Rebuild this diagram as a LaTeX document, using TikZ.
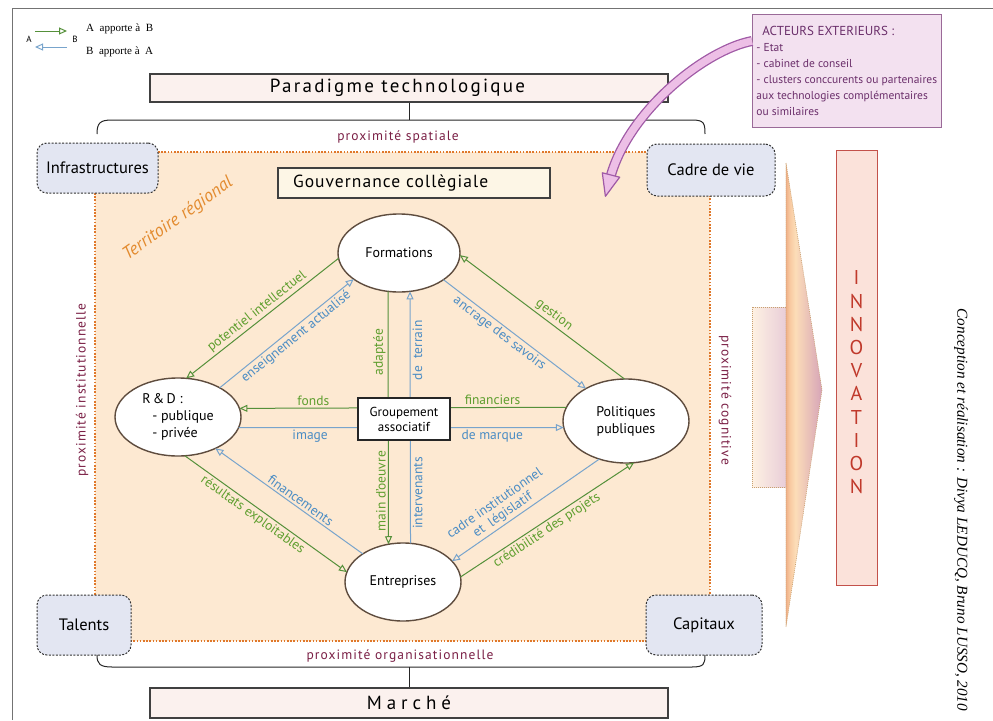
\documentclass[tikz,border=0pt]{standalone}
\usepackage{fontspec}
\setmainfont{PT Sans}
\newfontfamily\serifx{Liberation Serif}
\newfontfamily\spaced[LetterSpace=12]{PT Sans}
\newfontfamily\spacedm[LetterSpace=26]{PT Sans}
\newfontfamily\spacedb[LetterSpace=6]{PT Sans}
\newfontfamily\spacedp[LetterSpace=8]{PT Sans}
\usetikzlibrary{arrows.meta,shapes.geometric,calc}
\definecolor{grn}{HTML}{55903A}
\definecolor{grntxt}{HTML}{5E9E2E}
\definecolor{blu}{HTML}{78A4CC}
\definecolor{blutxt}{HTML}{4A8CC4}
\definecolor{peach}{HTML}{FDE9D2}
\definecolor{orangeb}{HTML}{E0782A}
\definecolor{orangetxt}{HTML}{E38B2F}
\definecolor{maroon}{HTML}{7A1F45}
\definecolor{lav}{HTML}{E3E6F2}
\definecolor{ellb}{HTML}{5E4C3E}
\definecolor{paradfill}{HTML}{FBF1EE}
\definecolor{gouvfill}{HTML}{FDF6E6}
\definecolor{innofill}{HTML}{FBE2DA}
\definecolor{innob}{HTML}{C3514A}
\definecolor{innotxt}{HTML}{C0392B}
\definecolor{actfill}{HTML}{F3E1F0}
\definecolor{actb}{HTML}{9A6A98}
\definecolor{acttxt}{HTML}{6B2F6B}
\definecolor{bandb}{HTML}{A05AA6}
\definecolor{bandf}{HTML}{EDBFE6}
\definecolor{tA}{HTML}{F0B088}
\definecolor{tB}{HTML}{F8C9A0}
\definecolor{tC}{HTML}{FCDDB8}
\definecolor{tD}{HTML}{D6A4B8}
\definecolor{tan}{HTML}{C8A070}
\pgfdeclarehorizontalshading{trish}{100bp}{color(0bp)=(tA); color(25bp)=(tA); color(30bp)=(tB); color(38bp)=(tC); color(75bp)=(tD); color(100bp)=(tD)}
\begin{document}
\begin{tikzpicture}[x=1pt,y=-1pt,
  ell/.style={ellipse, draw=ellb, line width=1.4pt, fill=white, inner sep=0pt, outer sep=0pt, font=\fontsize{14}{17}\selectfont, align=center},
  zone/.style={rectangle, rounded corners=10pt, draw=black!80, dash pattern=on 2pt off 1.5pt, line width=1pt, fill=lav, font=\fontsize{16.5}{18}\selectfont},
  tipo/.style={-{Triangle[open,length=8pt,width=7pt]}},
  gl/.style={draw=grn, line width=1pt, tipo},
  bl/.style={draw=blu, line width=1pt, tipo},
  glab/.style={text=grntxt, font=\fontsize{13.5}{14}\selectfont, inner sep=2pt},
  blab/.style={text=blutxt, font=\fontsize{13.5}{14}\selectfont, inner sep=2pt},
  prox/.style={text=maroon, font=\spacedp\fontsize{13.5}{14}\selectfont},
  pbox/.style={draw=black!75, fill=paradfill, line width=1.2pt, inner sep=0pt},
  brace/.style={draw=black!85, line width=1pt}
]
\useasboundingbox (0,0) rectangle (993,720);
% frame
\draw[black!55, line width=1pt] (12,720) -- (12,8) -- (993,8);
% legend
\coordinate (la1) at (35,31); \coordinate (la2) at (67,31);
\coordinate (lb1) at (67,47); \coordinate (lb2) at (35,47);
\draw[gl] (la1) -- (la2);
\draw[bl] (lb1) -- (lb2);
\node[font=\fontsize{9}{9}\selectfont] (legA) at (29,39) {A};
\node[font=\fontsize{9}{9}\selectfont] (legB) at (75,39) {B};
\node[anchor=west, font=\serifx\fontsize{11}{13}\selectfont, inner sep=0] (leg1) at (86,29) {A~ apporte à~ B};
\node[anchor=west, font=\serifx\fontsize{11}{13}\selectfont, inner sep=0] (leg2) at (86,52) {B~ apporte à~ A};
% acteurs exterieurs
\node[draw=actb, fill=actfill, line width=0.9pt, anchor=north west, minimum width=188, inner xsep=4, inner ysep=6, minimum height=113, align=left, text=acttxt, font=\fontsize{11.5}{16}\selectfont] (act) at (752,14) {\hspace*{6pt}{\fontsize{13}{16}\selectfont ACTEURS EXTERIEURS :}\\- Etat\\- cabinet de conseil\\- clusters conccurents ou partenaires\\aux technologies complémentaires\\ou similaires};
% paradigme
\node[pbox, font=\spaced\fontsize{19}{20}\selectfont, minimum width=518, minimum height=28] (par) at (409,88) {\hspace*{-23pt}Paradigme technologique};
\coordinate (bt) at (409,120);
\draw[brace] (par.south) -- (bt);
\draw[brace] (97,134) .. controls (97,123) and (100,120) .. (112,120) -- (692,120) .. controls (704,120) and (705,123) .. (705,134);
\node[prox] (pspat) at (398,137) {proximité spatiale};
% territoire
\node[draw=orangeb, fill=peach, line width=1.8pt, dash pattern=on 1.6pt off 1.6pt, minimum width=615, minimum height=489, inner sep=0] (terr) at (402.5,396.5) {};
\node[rotate=35.5, text=orangetxt, font=\itshape\fontsize{18}{18}\selectfont] (terrlab) at (178,219) {Territoire régional};
\node[draw=black!75, fill=gouvfill, line width=1.2pt, minimum width=272, minimum height=30, text width=242, inner xsep=15, align=left, font=\spacedb\fontsize{17.5}{19}\selectfont] (gouv) at (414,183) {Gouvernance collègiale};
% curved arrow from the outside actors
\coordinate (cs) at ($(act.north west)+(0,27)$);
\coordinate (ce) at (611,175);
\coordinate (aw1) at (619.7,177.2);
\coordinate (aw2) at (602.3,172.8);
\coordinate (atip) at (605.4,196.3);
\draw[bandb, line width=10pt] (cs) .. controls (705,50) and (630,110) .. (ce);
\draw[bandf, line width=7.4pt] (cs) .. controls (705,50) and (630,110) .. (ce);
\filldraw[fill=bandf, draw=bandb, line width=1.2pt, line join=round] (aw1) -- (atip) -- (aw2) -- cycle;
% zone boxes
\node[zone, minimum width=121, minimum height=50] (infra) at (97.5,168) {Infrastructures};
\node[zone, minimum width=128, minimum height=52] (cadre) at (711,170) {Cadre de vie};
\node[zone, minimum width=94, minimum height=60] (tal) at (84,625) {Talents};
\node[zone, minimum width=116, minimum height=60] (cap) at (704,625) {Capitaux};
% ellipses
\node[ell, minimum width=122, minimum height=78] (F) at (399,253) {Formations};
\node[ell, minimum width=126, minimum height=78, align=left] (R) at (178,417) {R\,\&\,D :\\\hspace*{10pt}- publique\\\hspace*{10pt}- privée};
\node[ell, minimum width=126, minimum height=84] (P) at (626,421) {Politiques\\publiques};
\node[ell, minimum width=116, minimum height=78] (E) at (403,582) {Entreprises};
% connectors F-R
\draw[gl] (F.185) -- (R.78) node[glab, pos=.5, sloped, above] {potentiel intellectuel};
\draw[bl] (R.35) -- (F.210) node[blab, pos=.53, sloped, below] {enseignement actualisé};
% F-P
\draw[gl] (P.92) -- (F.358) node[glab, pos=.46, sloped, above] {gestion};
\draw[bl] (F.-31.5) -- (P.141.5) node[blab, pos=.43, sloped, below] {ancrage des savoirs};
% R-E
\draw[gl] (R.280) -- (E.170) node[glab, pos=.45, sloped, below] {résultats exploitables};
\draw[bl] (E.145) -- (R.320) node[blab, pos=.45, sloped, above] {financements};
% P-E
\draw[bl] (P.235) -- (E.23) node[blab, pos=.62, sloped, above, align=center, font=\fontsize{13.5}{14}\selectfont] {cadre institutionnel\\et~ législatif};
\draw[gl] (E.5) -- (P.281) node[glab, pos=.47, sloped, below] {crédibilité des projets};
% horizontal through groupement
\draw[gl] (P.167.8) -- (R.8.4) node[glab, pos=.226, above] {financiers} node[glab, pos=.774, above] {fonds};
\draw[bl] (R.-10.3) -- (P.186.4) node[blab, pos=.22, below] {image} node[blab, pos=.78, below] {de marque};
% vertical through groupement
\draw[gl] (F.254) -- (E.111.7) node[glab, pos=.24, rotate=90, anchor=south] {adaptée} node[glab, pos=.79, rotate=90, anchor=south] {main d'oeuvre};
\draw[bl] (E.79.7) -- (F.286) node[blab, pos=.766, rotate=90, anchor=north] {de~ terrain} node[blab, pos=.2, rotate=90, anchor=north] {intervenants};
\node[draw=black!85, fill=white, line width=1.2pt, minimum width=92, minimum height=42, align=center, inner sep=0, font=\fontsize{13}{15}\selectfont] (grp) at (404,419) {Groupement\\associatif};
% proximity side labels
\node[prox, rotate=90] (pinst) at (82,390) {proximité institutionnelle};
\node[prox, rotate=-90] (pcog) at (725,400) {proximité cognitive};
\node[prox] (porg) at (400,656) {proximité organisationnelle};
% right side
\shade[left color=white!60!tC, right color=tD!55!white] (752,307) rectangle (786,487);
\draw[tan, line width=0.6pt, dash pattern=on 1pt off 1pt] (786,307) -- (752,307) -- (752,487) -- (786,487);
\shade[shading=trish] (786,163) -- (822,390) -- (786,627) -- cycle;
\draw[tan, line width=0.6pt, dash pattern=on 1pt off 1pt] (786,163) -- (822,390) -- (786,627) -- cycle;
\node[draw=innob, fill=innofill, line width=1pt, minimum width=41, minimum height=435, inner sep=0] (inno) at (856.5,367.5) {};
\node[text=innotxt, align=center, inner sep=0, font=\fontsize{20}{23.2}\selectfont] (innot) at (856.5,382.5) {I\\N\\N\\O\\V\\A\\T\\I\\O\\N};
% credit
\node[rotate=-90, font=\serifx\itshape\fontsize{15.2}{15}\selectfont] (credit) at (961,510) {Conception et réalisation : Divya LEDUCQ, Bruno LUSSO, 2010};
% bottom
\node[pbox, font=\spacedm\fontsize{19}{20}\selectfont, minimum width=518, minimum height=30] (mar) at (409,703) {Marché};
\coordinate (bb) at (409,667);
\draw[brace] (97,655) .. controls (97,664) and (100,667) .. (112,667) -- (692,667) .. controls (704,667) and (705,664) .. (705,655);
\draw[brace] (bb) -- (mar.north);
\end{tikzpicture}
\end{document}
